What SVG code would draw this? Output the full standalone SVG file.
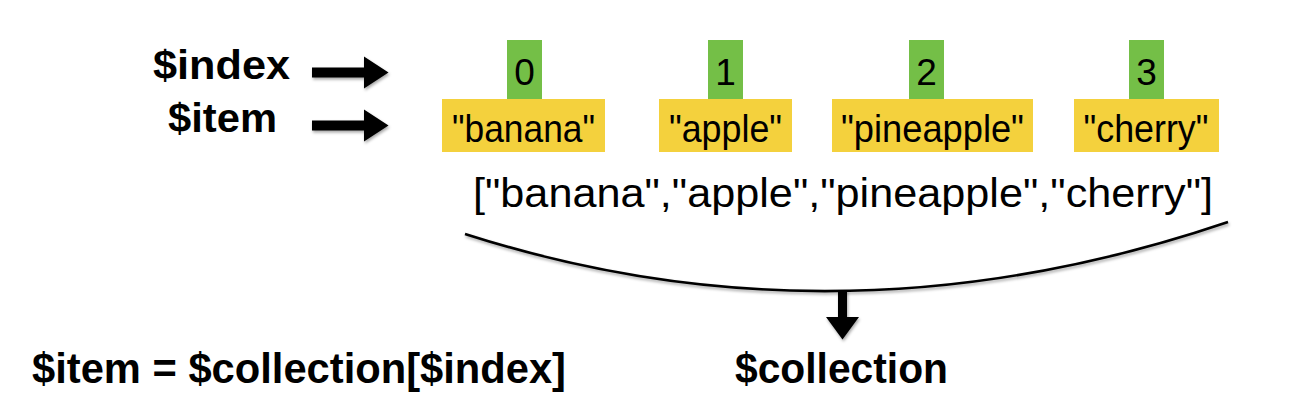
<svg xmlns="http://www.w3.org/2000/svg" width="1296" height="408" viewBox="0 0 1296 408">
  <defs>
    <filter id="shadow" x="-20%" y="-20%" width="140%" height="160%">
      <feDropShadow dx="1" dy="2" stdDeviation="1.5" flood-color="#000" flood-opacity="0.35"/>
    </filter>
  </defs>
  <style>
    .bg { fill: #ffffff; }
    .idx { fill: #74BF47; }
    .val { fill: #F4D13D; }
    .t { font-family: "Liberation Sans", Arial, Helvetica, sans-serif; fill: #000; }
    .num { font-size: 37px; text-anchor: middle; }
    .str { font-size: 39px; text-anchor: middle; }
    .arr { font-size: 41px; }
    .lbl { font-size: 41px; font-weight: bold; }
    .big { font-size: 43px; font-weight: bold; }
    .arrow { fill: #000; filter: url(#shadow); }
    .curve { fill: none; stroke: #000; stroke-width: 2.6; filter: url(#shadow); }
  </style>
  <rect class="bg" x="0" y="0" width="1296" height="408"/>

  <g id="label-index">
    <text class="t lbl" x="153" y="79" textLength="137" lengthAdjust="spacingAndGlyphs">$index</text>
  </g>
  <g id="label-item">
    <text class="t lbl" x="168" y="132" textLength="109" lengthAdjust="spacingAndGlyphs">$item</text>
  </g>

  <g id="item-0">
    <rect class="idx" x="507" y="40" width="35" height="59"/>
    <text class="t num" x="524.5" y="85">0</text>
    <rect class="val" x="442" y="99" width="163" height="53"/>
    <text class="t str" x="523.5" y="141.5" textLength="143" lengthAdjust="spacingAndGlyphs">"banana"</text>
  </g>
  <g id="item-1">
    <rect class="idx" x="708" y="40" width="35" height="59"/>
    <text class="t num" x="725.5" y="85">1</text>
    <rect class="val" x="659" y="99" width="133" height="53"/>
    <text class="t str" x="725.5" y="141.5" textLength="113" lengthAdjust="spacingAndGlyphs">"apple"</text>
  </g>
  <g id="item-2">
    <rect class="idx" x="909" y="40" width="35" height="59"/>
    <text class="t num" x="926.5" y="85">2</text>
    <rect class="val" x="832" y="99" width="201" height="53"/>
    <text class="t str" x="932.5" y="141.5" textLength="183" lengthAdjust="spacingAndGlyphs">"pineapple"</text>
  </g>
  <g id="item-3">
    <rect class="idx" x="1129" y="40" width="35" height="59"/>
    <text class="t num" x="1146.5" y="85">3</text>
    <rect class="val" x="1074" y="99" width="145" height="53"/>
    <text class="t str" x="1146" y="141.5" textLength="125" lengthAdjust="spacingAndGlyphs">"cherry"</text>
  </g>

  <g id="array">
    <text class="t arr" x="473" y="207" textLength="740" lengthAdjust="spacingAndGlyphs">["banana","apple","pineapple","cherry"]</text>
  </g>

  <g id="collection">
    <text class="t big" x="735" y="383" textLength="213" lengthAdjust="spacingAndGlyphs">$collection</text>
  </g>
  <g id="formula">
    <text class="t big" x="32" y="383" textLength="534" lengthAdjust="spacingAndGlyphs">$item = $collection[$index]</text>
  </g>

  <g id="connectors">
    <polygon class="arrow" points="312,67.5 364,67.5 364,56.5 388.5,72.5 364,88.5 364,77.5 312,77.5"/>
    <polygon class="arrow" points="312,120.5 364,120.5 364,109.5 388.5,125.5 364,141.5 364,130.5 312,130.5"/>
    <path class="curve" d="M465,234 Q839.5,354 1228,222"/>
    <polygon class="arrow" points="838,290 847,290 847,317 859,317 842.5,339.5 826,317 838,317"/>
  </g>
</svg>
